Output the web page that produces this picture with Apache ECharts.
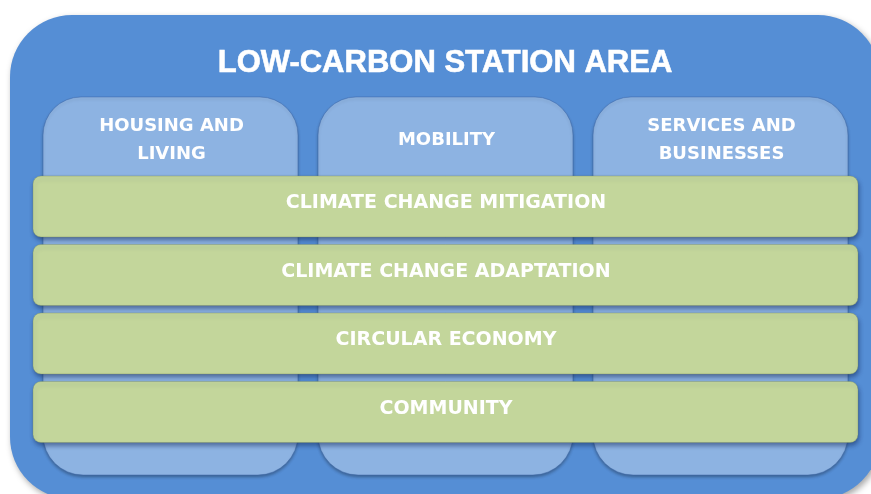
<!DOCTYPE html>
<html lang="en">
<head>
  <meta charset="UTF-8">
  <title>Low-carbon station area</title>
  <script src="https://cdn.jsdelivr.net/npm/echarts@6/dist/echarts.min.js"></script>
  <style>
    * { padding: 0; margin: 0; }
    body { background: #fff; }
    #box { width: 871px; height: 494px; }
  </style>
</head>
<body>
  <div id="box"></div>
  <script>
    // diagram content
    var title = 'LOW-CARBON STATION AREA'
    var pillars = ['HOUSING AND\nLIVING', 'MOBILITY', 'SERVICES AND\nBUSINESSES']
    var layers = ['CLIMATE CHANGE MITIGATION', 'CLIMATE CHANGE ADAPTATION', 'CIRCULAR ECONOMY', 'COMMUNITY']

    var pillarData = pillars.map(function (p, i) { return { name: p, value: [i, 0] } })
    var layerData = layers.map(function (l, i) { return { name: l, value: [0, i] } })

    var mCharts = echarts.init(document.getElementById('box'))

    function renderPillar(params, api) {
      var cs = params.coordSys
      var c = api.coord([api.value(0), 0])
      var bw = api.size([1, 0])[0]
      var w = bw * 0.927
      var top = cs.y - 79
      var bottom = cs.y + cs.height + 25
      return {
        type: 'group',
        children: [{
          type: 'rect',
          shape: { x: c[0] - w / 2, y: top, width: w, height: bottom - top, r: [38, 38, 40, 40] },
          style: {
            fill: '#8db3e2', stroke: 'rgba(60,100,165,0.45)', lineWidth: 1,
            shadowBlur: 3, shadowOffsetY: 2, shadowColor: 'rgba(0,0,0,0.28)'
          }
        }, {
          type: 'text',
          style: {
            text: pillars[params.dataIndex], x: c[0] + 1, y: top + 43,
            fill: '#fff', font: 'bold 18px "DejaVu Sans"', lineHeight: 28,
            align: 'center', verticalAlign: 'middle'
          }
        }]
      }
    }

    function renderLayer(params, api) {
      var cs = params.coordSys
      var c = api.coord([0, api.value(1)])
      var bh = api.size([0, 1])[1]
      var top = c[1] - bh / 2
      var h = bh - 7.5
      return {
        type: 'group',
        children: [{
          type: 'rect',
          shape: { x: cs.x, y: top, width: cs.width, height: h, r: 8 },
          style: {
            fill: '#c3d69b', stroke: 'rgba(120,140,90,0.35)', lineWidth: 1,
            shadowBlur: 4, shadowOffsetX: 1, shadowOffsetY: 3, shadowColor: 'rgba(20,40,90,0.5)'
          }
        }, {
          type: 'text',
          style: {
            text: layers[params.dataIndex], x: cs.x + cs.width / 2 + 0.5, y: top + h / 2 - 3,
            fill: '#fff', font: 'bold 19px "DejaVu Sans"',
            align: 'center', verticalAlign: 'middle'
          }
        }]
      }
    }

    var option = {
      animation: false,
      graphic: [{
        type: 'rect',
        shape: { x: 10, y: 15, width: 870, height: 484, r: 62 },
        style: {
          fill: '#558ed5',
          shadowBlur: 6, shadowOffsetX: 2, shadowOffsetY: 3, shadowColor: 'rgba(0,0,0,0.35)'
        },
        z: 0
      }, {
        type: 'text',
        x: 445, y: 63,
        style: {
          text: title, fill: '#fff', font: 'bold 31px "Liberation Sans", Arial',
          stroke: '#fff', lineWidth: 0.6,
          align: 'center', verticalAlign: 'middle'
        },
        z: 1
      }],
      grid: { left: 33, right: 13, top: 176, bottom: 44 },
      xAxis: { type: 'category', data: pillars, show: false },
      yAxis: { type: 'category', data: layers, inverse: true, show: false },
      series: [{
        type: 'custom',
        renderItem: renderPillar,
        data: pillarData,
        z: 2
      }, {
        type: 'custom',
        renderItem: renderLayer,
        data: layerData,
        z: 3
      }]
    }
    mCharts.setOption(option)
  </script>
</body>
</html>
